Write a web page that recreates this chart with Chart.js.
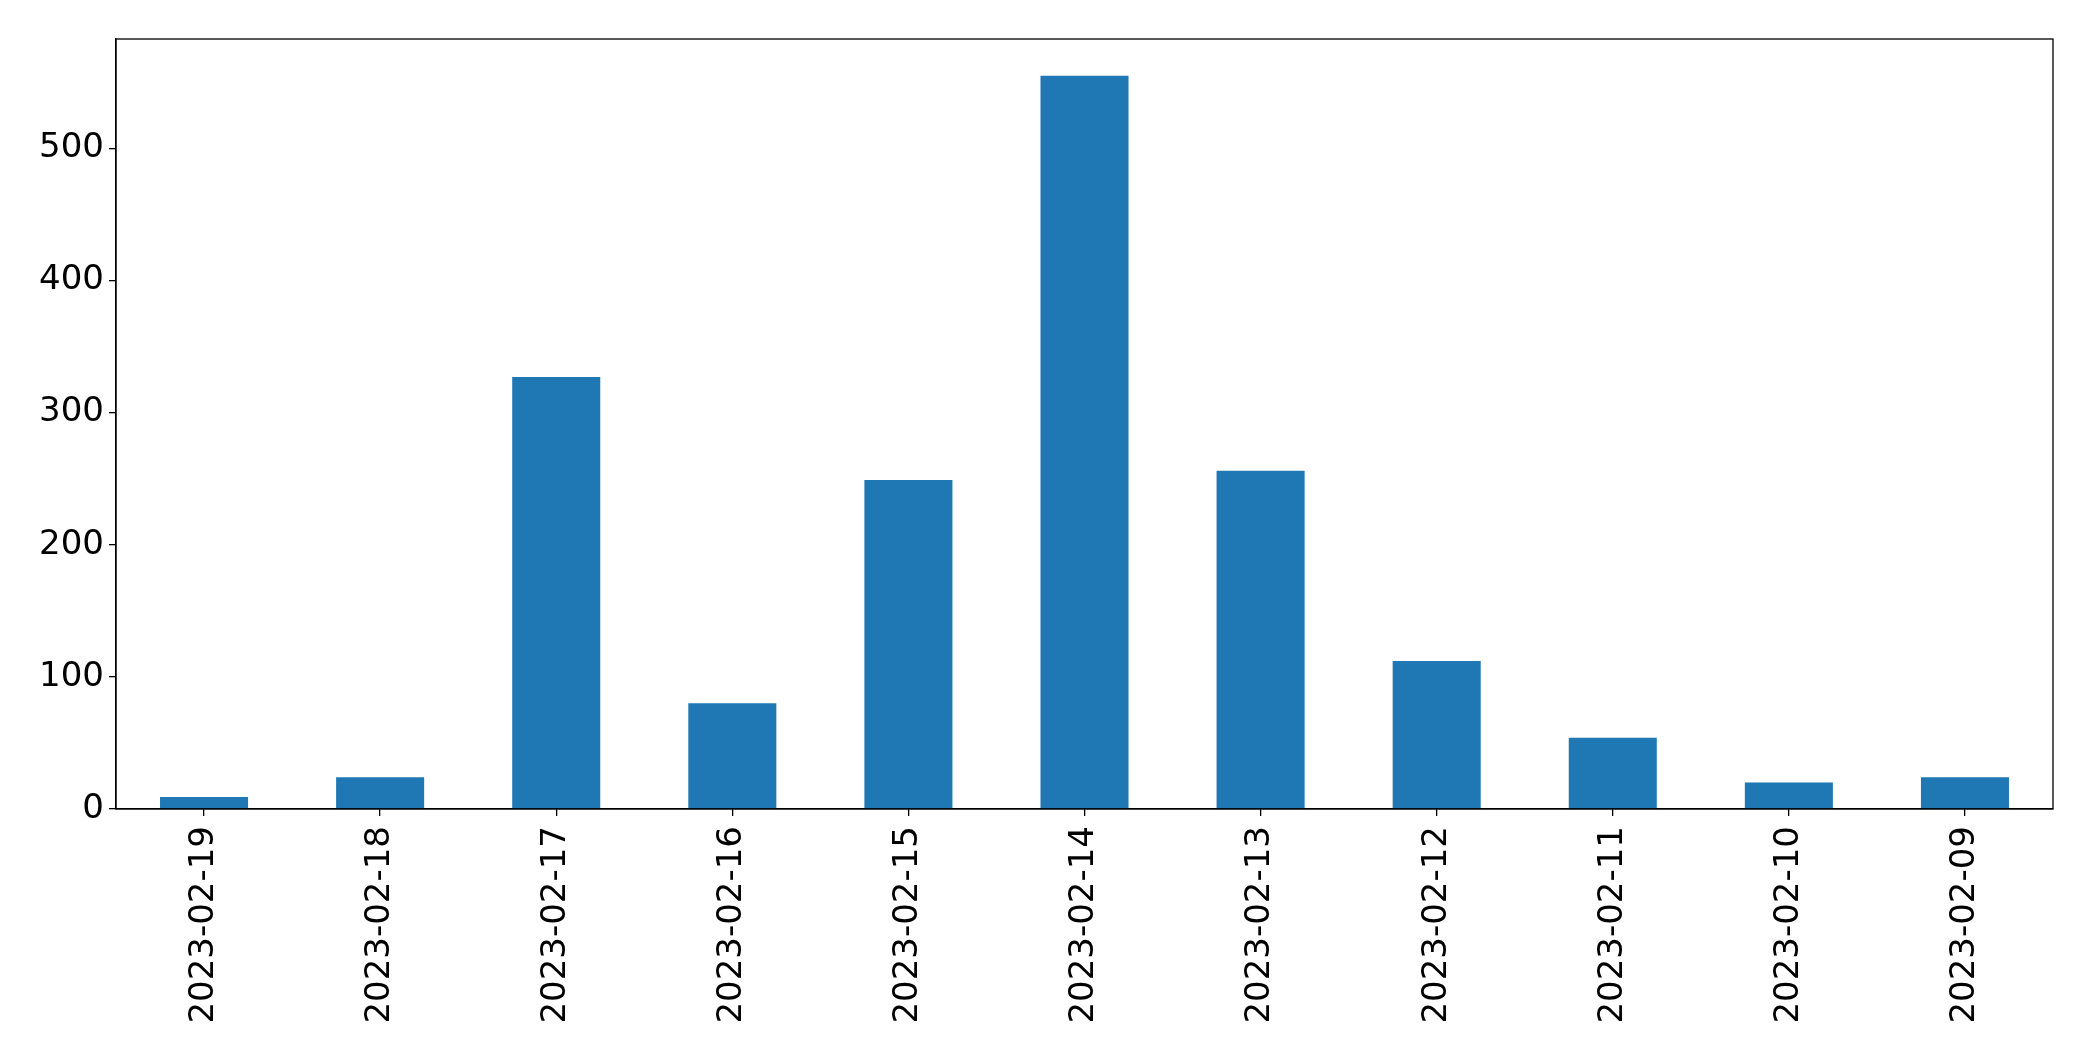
<!DOCTYPE html>
<html>
<head>
<meta charset="utf-8">
<script src="https://cdn.jsdelivr.net/npm/chart.js@4.4.1/dist/chart.umd.min.js"></script>
<style>
  html, body { margin: 0; padding: 0; background: #ffffff; }
  #wrap { width: 2093px; height: 1061px; position: relative; }
</style>
</head>
<body>
<div id="wrap"><canvas id="c" width="2093" height="1061"></canvas></div>
<script>
const categories = ["2023-02-19","2023-02-18","2023-02-17","2023-02-16","2023-02-15","2023-02-14","2023-02-13","2023-02-12","2023-02-11","2023-02-10","2023-02-09"];
const counts = [9, 24, 327, 80, 249, 555, 256, 112, 54, 20, 24];
const yTickStep = 100;

const dataMax = Math.max(...counts);
const yMax = dataMax * 1.05;

const frame = {
  id: 'frame',
  afterDraw(chart) {
    const a = chart.chartArea, ctx = chart.ctx;
    ctx.save();
    ctx.strokeStyle = '#000';
    ctx.lineWidth = 1.3;
    ctx.strokeRect(a.left, a.top, a.right - a.left, a.bottom - a.top);
    ctx.restore();
  }
};

new Chart(document.getElementById('c'), {
  type: 'bar',
  data: {
    labels: categories,
    datasets: [{
      data: counts,
      backgroundColor: '#1f77b4',
      borderWidth: 0,
      barPercentage: 0.5,
      categoryPercentage: 1.0
    }]
  },
  options: {
    responsive: false,
    animation: false,
    devicePixelRatio: 1,
    layout: { padding: { left: 0, right: 40, top: 39, bottom: 0 } },
    plugins: { legend: { display: false }, tooltip: { enabled: false } },
    scales: {
      x: {
        grid: { display: true, offset: false, drawOnChartArea: false, drawTicks: true, tickLength: 7, color: '#000', lineWidth: 1.3 },
        border: { display: true, color: '#000', width: 1.3 },
        ticks: {
          color: '#000',
          font: { family: 'DejaVu Sans', size: 34 },
          minRotation: 90, maxRotation: 90,
          padding: 10,
          autoSkip: false
        },
        afterFit(scale) { scale.height = 252; }
      },
      y: {
        min: 0,
        max: yMax,
        grid: { display: true, drawOnChartArea: false, drawTicks: true, tickLength: 7, color: '#000', lineWidth: 1.3 },
        border: { display: true, color: '#000', width: 1.3 },
        ticks: {
          color: '#000',
          font: { family: 'DejaVu Sans', size: 34 },
          stepSize: yTickStep,
          includeBounds: false,
          padding: 5
        },
        afterFit(scale) { scale.width = 116; }
      }
    }
  },
  plugins: [frame]
});
</script>
</body>
</html>
